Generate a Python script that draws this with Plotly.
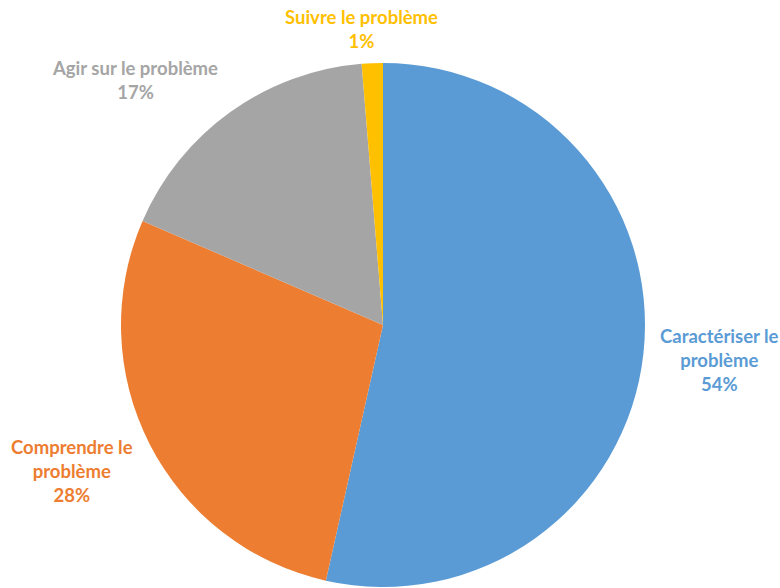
import plotly.graph_objects as go

labels = ["Caractériser le problème", "Comprendre le problème", "Agir sur le problème", "Suivre le problème"]
label_lines = ["Caractériser le<br>problème", "Comprendre le<br>problème", "Agir sur le problème", "Suivre le problème"]
values = [53.5, 28.0, 17.2, 1.3]
colors = ["#5B9BD5", "#ED7D31", "#A5A5A5", "#FFC000"]

# label anchor positions (paper coords)
label_x = [0.923, 0.092, 0.173, 0.464]
label_y = [0.388, 0.199, 0.864, 0.951]

total = sum(values)
fig = go.Figure(go.Pie(
    labels=labels, values=values, sort=False, direction="clockwise", rotation=0,
    marker=dict(colors=colors), textinfo="none", hoverinfo="label+percent",
    domain=dict(x=[121/780, 645/780], y=[1-587/588, 1-63/588]),
    showlegend=False,
))

for lab, v, c, x, y in zip(label_lines, values, colors, label_x, label_y):
    fig.add_annotation(
        x=x, y=y, xref="paper", yref="paper", xanchor="center", yanchor="middle",
        text=f"<b>{lab}<br>{round(100*v/total)}%</b>", showarrow=False,
        font=dict(family="Lato", size=18.5, color=c), align="center",
    )

fig.update_layout(width=780, height=588, margin=dict(l=0, r=0, t=0, b=0),
                  paper_bgcolor="white", plot_bgcolor="white")
fig.write_html("out.html", config={"displayModeBar": False},
               post_script="document.body.style.margin='0';")
